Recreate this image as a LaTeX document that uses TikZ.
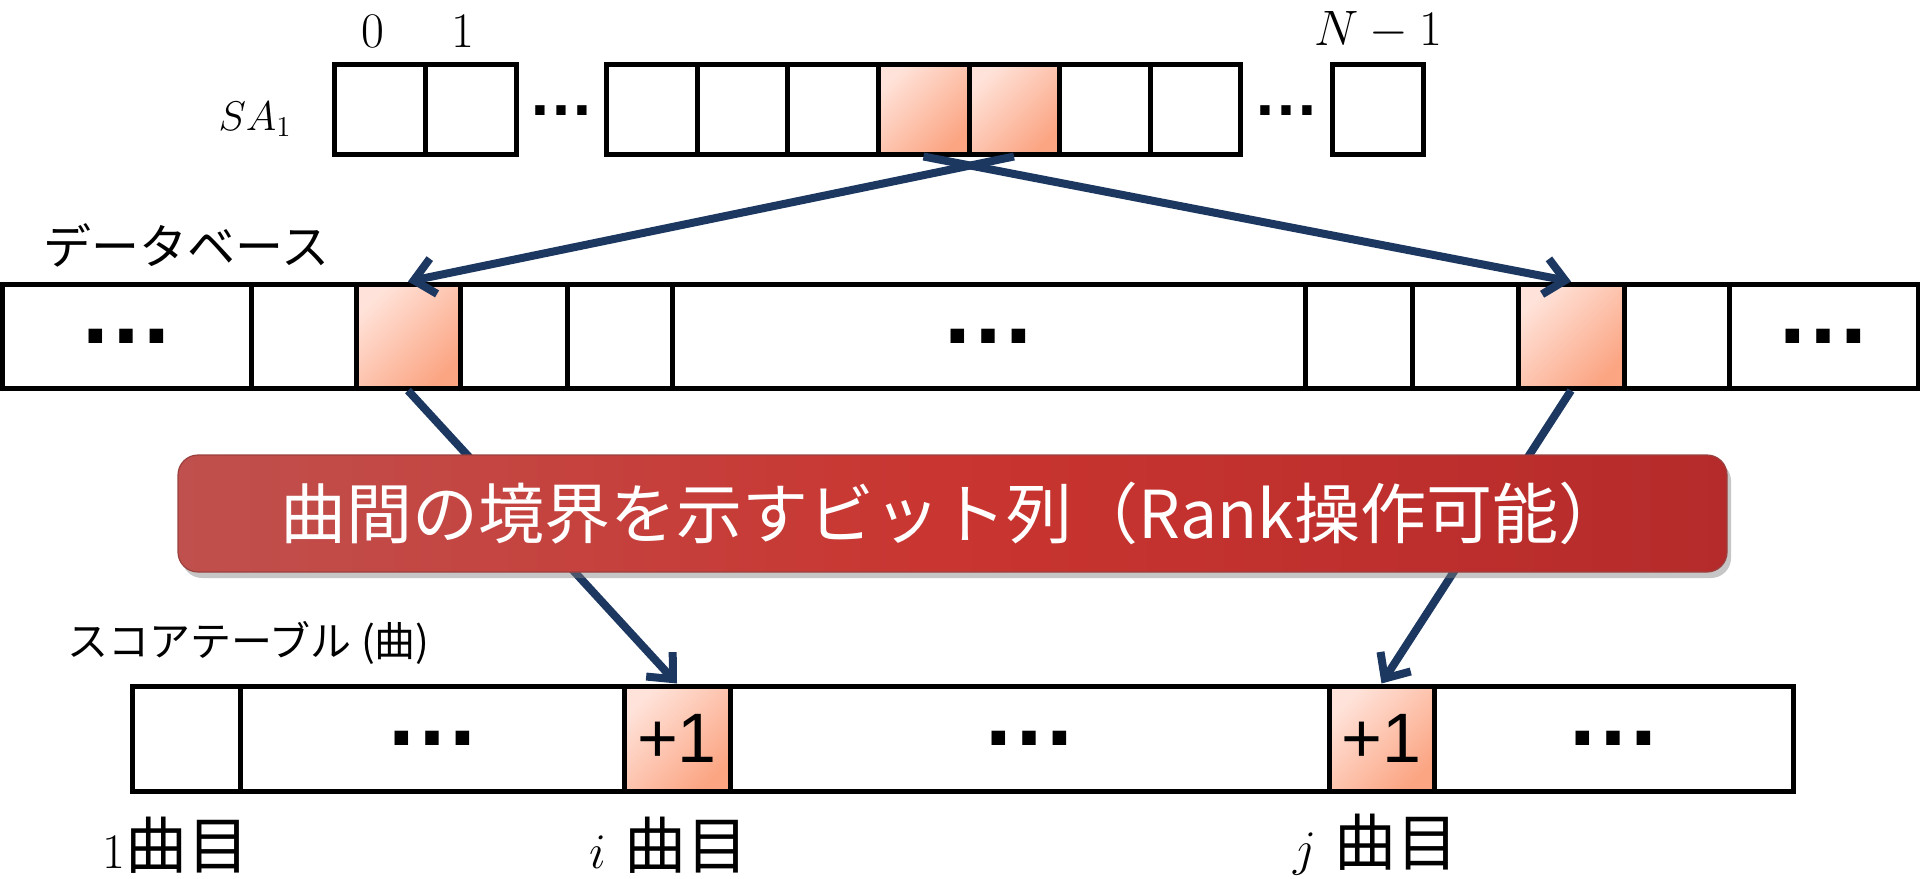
\documentclass[tikz,border=0pt]{standalone}
\usepackage{fontspec}
\newfontfamily\jp{Noto Sans CJK JP}
\newfontfamily\arial{Liberation Sans}
\usetikzlibrary{arrows.meta,fit,shadows}
\definecolor{navy}{HTML}{1C3760}
\definecolor{hlA}{HTML}{FFE3DA}
\definecolor{hlB}{HTML}{FBA583}
\definecolor{bnA}{HTML}{C0504D}
\definecolor{bnM}{HTML}{C93530}
\definecolor{bnB}{HTML}{B52B2B}
\tikzset{
  cell/.style={draw=black, line width=2.5pt, inner sep=0pt, fill=white},
  hl/.style={cell, shading=axis, top color=hlA, bottom color=hlB, shading angle=45},
  link/.style={draw=navy, line width=4pt, -{Straight Barb[length=10pt,width=18pt]}},
  banner/.style={rounded corners=10pt, left color=bnA, right color=bnB, middle color=bnM,
     draw=bnA!80!black, line width=0.6pt,
     drop shadow={opacity=0.45, shadow xshift=2pt, shadow yshift=-3pt},
     inner sep=0pt},
  lbl/.style={inner sep=0pt},
}
\newcommand\mkcell[7]{%
  \coordinate (#1-a) at (#2,#4);
  \coordinate (#1-b) at (#3,#5);
  \node[#6, fit=(#1-a)(#1-b)] (#1) {};
  \node[lbl] (#1-t) at (#1.center) {#7};}
\newcommand\smalldots{{\arial\bfseries\fontsize{33}{36}\selectfont …}}
\newcommand\bigdots{{\arial\bfseries\fontsize{48}{52}\selectfont …}}
\newcommand\plusone{{\arial\fontsize{35}{38}\selectfont +1}}
\begin{document}
\begin{tikzpicture}[x=0.5pt,y=-0.5pt]
\useasboundingbox (0,0) rectangle (1920,878);
% ---------------- SA_1 row
\mkcell{s0}{334}{425}{64}{154}{cell}{}
\mkcell{s1}{425}{516}{64}{154}{cell}{}
\mkcell{s2}{606}{697}{64}{154}{cell}{}
\mkcell{s3}{697}{787}{64}{154}{cell}{}
\mkcell{s4}{787}{878}{64}{154}{cell}{}
\mkcell{s5}{878}{969}{64}{154}{hl}{}
\mkcell{s6}{969}{1059}{64}{154}{hl}{}
\mkcell{s7}{1059}{1150}{64}{154}{cell}{}
\mkcell{s8}{1150}{1240}{64}{154}{cell}{}
\mkcell{s9}{1332}{1423}{64}{154}{cell}{}
\node[lbl] (sd1) at (561,111) {\smalldots};
\node[lbl] (sd2) at (1286,111) {\smalldots};
\node[lbl] (n0) at (373,31) {\fontsize{23}{26}\selectfont $0$};
\node[lbl] (n1) at (463,31) {\fontsize{23}{26}\selectfont $1$};
\node[lbl] (nN) at (1378,31) {\fontsize{23}{26}\selectfont $N-1$};
\node[lbl] (sa) at (255,119) {\fontsize{22}{26}\selectfont $SA_1$};
% ---------------- database row
\node[lbl, anchor=west] (dblbl) at (43,245) {\jp\fontsize{24}{28}\selectfont データベース};
\mkcell{d0}{2}{251}{284}{388}{cell}{\bigdots}
\mkcell{d1}{251}{356}{284}{388}{cell}{}
\mkcell{d2}{356}{460}{284}{388}{hl}{}
\mkcell{d3}{460}{567}{284}{388}{cell}{}
\mkcell{d4}{567}{672}{284}{388}{cell}{}
\mkcell{d5}{672}{1305}{284}{388}{cell}{\bigdots}
\mkcell{d6}{1305}{1412}{284}{388}{cell}{}
\mkcell{d7}{1412}{1518}{284}{388}{cell}{}
\mkcell{d8}{1518}{1624}{284}{388}{hl}{}
\mkcell{d9}{1624}{1729}{284}{388}{cell}{}
\mkcell{d10}{1729}{1918}{284}{388}{cell}{\bigdots}
% ---------------- score table row
\node[lbl, anchor=west] (sclbl) at (67,643) {\jp\fontsize{20.5}{24}\selectfont スコアテーブル (曲)};
\mkcell{t0}{132}{240}{686}{791}{cell}{}
\mkcell{t1}{240}{624}{686}{791}{cell}{\bigdots}
\mkcell{t2}{624}{730}{686}{791}{hl}{\plusone}
\mkcell{t3}{730}{1329}{686}{791}{cell}{\bigdots}
\mkcell{t4}{1329}{1434}{686}{791}{hl}{\plusone}
\mkcell{t5}{1434}{1793}{686}{791}{cell}{\bigdots}
\node[lbl] (l1) at (176,845) {\fontsize{31}{34}\selectfont $1$\jp 曲目};
\node[lbl] (li) at (669,845) {\fontsize{31}{34}\selectfont $i$ \jp 曲目};
\node[lbl] (lj) at (1376,845) {\fontsize{31}{34}\selectfont $j$ \jp 曲目};
% ---------------- arrows
\draw[link] (s6.south) -- (d2.north);
\draw[link] (s5.south) -- (d8.north);
\draw[link] (d2.south) -- (t2.north);
\draw[link] (d8.south) -- (t4.north);
% ---------------- banner
\coordinate (b-a) at (178,455);
\coordinate (b-b) at (1727,572);
\node[banner, fit=(b-a)(b-b)] (banner) {};
\node[lbl, text=white] (btext) at (banner.center) {\jp\fontsize{33}{38}\selectfont 曲間の境界を示すビット列（Rank操作可能）};
\end{tikzpicture}
\end{document}
